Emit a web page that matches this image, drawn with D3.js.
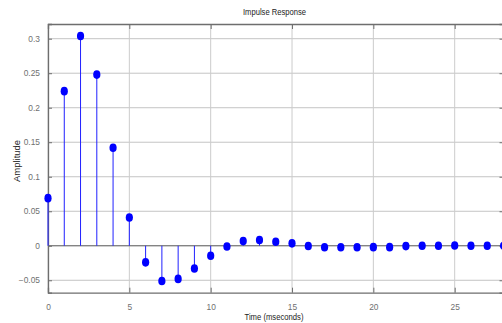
<!DOCTYPE html>
<html>
<head>
<meta charset="utf-8">
<script src="https://cdn.jsdelivr.net/npm/d3@7"></script>
<style>
  body { margin: 0; background: #fff; }
  svg { display: block; }
</style>
</head>
<body>
<div id="chart"></div>
<script>
// sample index (ms) and impulse response amplitude
const timeMs = [0, 1, 2, 3, 4, 5, 6, 7, 8, 9, 10, 11, 12, 13, 14, 15, 16, 17, 18, 19, 20, 21, 22, 23, 24, 25, 26, 27, 28];
const amplitude = [0.069, 0.224, 0.304, 0.248, 0.142, 0.041, -0.024, -0.051, -0.048, -0.033, -0.0145,
  -0.001, 0.0068, 0.0083, 0.0058, 0.0035, -0.0004, -0.0022, -0.0022, -0.0022, -0.002, -0.002,
  -0.0005, 0, 0, 0.0003, 0, 0, 0];
const xTicks = [0, 5, 10, 15, 20, 25];
const yTicks = [-0.05, 0, 0.05, 0.1, 0.15, 0.2, 0.25, 0.3];

const width = 502, height = 323;
const margin = {top: 24, right: -1.5, bottom: 30.3, left: 48};
const chartWidth = width - margin.left - margin.right;
const chartHeight = height - margin.top - margin.bottom;

const svg = d3.select('#chart').append('svg')
  .attr('width', width)
  .attr('height', height);

const chart = svg.append('g')
  .attr('transform', `translate(${margin.left}, ${margin.top})`);

const scaleX = d3.scaleLinear().domain([0, 28]).range([0, chartWidth]);
const scaleY = d3.scaleLinear().domain([-0.068, 0.3213]).range([chartHeight, 0]);

// grid
chart.selectAll('.ygrid')
  .data(yTicks)
  .join('line')
  .attr('class', 'ygrid')
  .attr('x1', 0).attr('x2', chartWidth)
  .attr('y1', d => scaleY(d)).attr('y2', d => scaleY(d))
  .attr('stroke', '#c4c4c4')
  .attr('stroke-width', 1);
chart.selectAll('.xgrid')
  .data(xTicks)
  .join('line')
  .attr('class', 'xgrid')
  .attr('x1', d => scaleX(d)).attr('x2', d => scaleX(d))
  .attr('y1', 0).attr('y2', chartHeight)
  .attr('stroke', '#cccccc')
  .attr('stroke-width', 1);

// axes (matlab style, ticks inside)
const axisBottom = chart.append('g')
  .attr('transform', `translate(0, ${chartHeight})`)
  .call(d3.axisBottom(scaleX).tickValues(xTicks).tickSize(-5).tickPadding(11).tickFormat(d3.format('d')));
const axisTop = chart.append('g')
  .call(d3.axisTop(scaleX).tickValues(xTicks).tickSize(-5).tickFormat(''));
const axisLeft = chart.append('g')
  .call(d3.axisLeft(scaleY).tickValues(yTicks).tickSize(-4).tickPadding(8).tickFormat(d => d3.format('')(d)));
const axisRight = chart.append('g')
  .attr('transform', `translate(${chartWidth}, 0)`)
  .call(d3.axisRight(scaleY).tickValues(yTicks).tickSize(-4).tickFormat(''));

[axisBottom, axisTop, axisLeft, axisRight].forEach(a => {
  a.select('.domain').attr('stroke', '#6e6e6e').attr('stroke-width', 1.3);
  a.selectAll('.tick line').attr('stroke', '#6e6e6e');
  a.selectAll('text')
    .attr('fill', '#707070')
    .style('font-family', 'Liberation Sans, Arial, sans-serif')
    .style('font-size', '8.4px');
});

// stem baseline
chart.append('line')
  .attr('x1', 0).attr('x2', chartWidth)
  .attr('y1', scaleY(0)).attr('y2', scaleY(0))
  .attr('stroke', '#6a6a6a')
  .attr('stroke-width', 1.2);

const points = timeMs.map((t, i) => ({t, v: amplitude[i]}));

chart.selectAll('.stem')
  .data(points)
  .join('line')
  .attr('class', 'stem')
  .attr('x1', d => scaleX(d.t)).attr('x2', d => scaleX(d.t))
  .attr('y1', scaleY(0)).attr('y2', d => scaleY(d.v))
  .attr('stroke', '#2020ff')
  .attr('stroke-width', 1);

chart.selectAll('.dot')
  .data(points)
  .join('ellipse')
  .attr('class', 'dot')
  .attr('cx', d => scaleX(d.t))
  .attr('cy', d => scaleY(d.v))
  .attr('rx', 3.6)
  .attr('ry', 4.3)
  .attr('fill', '#0000ff');

// title and labels
svg.append('text')
  .attr('x', 274.5)
  .attr('y', 15)
  .attr('text-anchor', 'middle')
  .attr('textLength', 63)
  .attr('lengthAdjust', 'spacingAndGlyphs')
  .style('font-family', 'Liberation Sans, Arial, sans-serif')
  .style('font-size', '9px')
  .attr('fill', '#222')
  .text('Impulse Response');

svg.append('text')
  .attr('x', 274)
  .attr('y', 320)
  .attr('text-anchor', 'middle')
  .attr('textLength', 59)
  .attr('lengthAdjust', 'spacingAndGlyphs')
  .style('font-family', 'Liberation Sans, Arial, sans-serif')
  .style('font-size', '9px')
  .attr('fill', '#222')
  .text('Time (mseconds)');

svg.append('text')
  .attr('transform', 'translate(19.5, 161) rotate(-90)')
  .attr('text-anchor', 'middle')
  .attr('textLength', 42)
  .attr('lengthAdjust', 'spacingAndGlyphs')
  .style('font-family', 'Liberation Sans, Arial, sans-serif')
  .style('font-size', '9px')
  .attr('fill', '#222')
  .text('Amplitude');
</script>
</body>
</html>
